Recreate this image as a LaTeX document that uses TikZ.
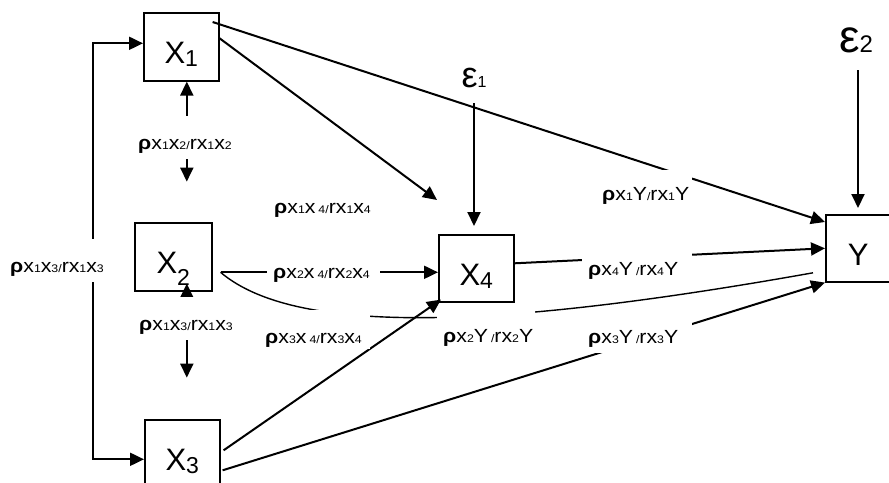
\documentclass[tikz,border=0pt]{standalone}
\usepackage{fontspec}
\setmainfont{Liberation Sans}
\newfontfamily\labfont[FakeStretch=1.12]{Liberation Sans}
\usetikzlibrary{arrows.meta,calc}

% subscript of a variable name inside a box
\newcommand\vsub[2]{\raisebox{#1}{\fontsize{23pt}{23pt}\selectfont #2}}
% small subscript used in the coefficient labels
\newcommand\ls[1]{\raisebox{-0.5pt}{\fontsize{11pt}{11pt}\selectfont #1}}
\newcommand\rh{{\bfseries ρ}}

\tikzset{
  var/.style={draw, line width=1.6pt, minimum width=75pt, inner sep=0pt,
    text height=51pt, text depth=17pt, anchor=north west,
    font=\fontsize{31pt}{31pt}\selectfont},
  conn/.style={line width=2pt, -{Triangle[length=14pt,width=13pt]}},
  both/.style={line width=2pt, {Triangle[length=14pt,width=13pt]}-{Triangle[length=14pt,width=13pt]}},
  thin path/.style={line width=1.4pt},
  lab/.style={fill=white, anchor=base west, inner xsep=6pt, inner ysep=0pt,
    text height=33pt, text depth=10pt, align=left,
    font=\labfont\fontsize{19pt}{19pt}\selectfont},
}

\begin{document}
\begin{tikzpicture}[x=1pt,y=-1pt]
\useasboundingbox (0,0) rectangle (889,482);
\fill[white] (0,0) rectangle (889,482);

% variables
\node[var] (X1) at (143,12) {X\vsub{-3pt}{1}};
\node[var, minimum width=77pt] (X2) at (134,222) {X\vsub{-12pt}{2}};
\node[var] (X3) at (144,419) {X\vsub{-3pt}{3}};
\node[var, text depth=16pt] (X4) at (438,234) {X\vsub{-3pt}{4}};
\node[var, text depth=16pt, minimum width=65pt] (Y) at (825,214) {Y};

% error terms
\node[inner sep=0pt, anchor=base, text depth=16pt] (e1) at (474,87)
  {\fontsize{36pt}{36pt}\selectfont ε\fontsize{16pt}{16pt}\selectfont 1};
\node[inner sep=0pt, anchor=base, text depth=18pt] (e2) at (856,52)
  {\fontsize{46pt}{46pt}\selectfont ε\fontsize{24pt}{24pt}\selectfont 2};

% loose ends
\coordinate (x1end) at ([shift={(-1pt,34pt)}]X4.north west);
\coordinate (x2yend) at ([shift={(-12pt,-24.5pt)}]Y.west);
\coordinate (x2start) at ([shift={(8pt,-15.5pt)}]X2.east);

% correlations between the exogenous variables
\draw[both] ([yshift=3.5pt]X1.west) -- ++(-50pt,0) |- ([yshift=-5.5pt]X3.west);
\draw[both] ([xshift=5.5pt]X1.south) -- ++(0,-100pt);
\draw[both] ([shift={(13.5pt,8pt)}]X2.south) -- ++(0,-94pt);

% paths
\draw[conn] ([shift={(-7pt,-10pt)}]X1.north east) -- ([yshift=-8pt]Y.north west);
\draw[conn] ([yshift=8.5pt]X1.east) -- (x1end);
\draw[conn] (e1.south) -- ($(e1.south |- X4.north)+(0,8pt)$);
\draw[conn] ([xshift=2pt]e2.south) -- ($(e2.south |- Y.north)+(2pt,6pt)$);
\draw[conn] (x2start) -- ([yshift=-4pt]X4.west);
\draw[thin path] (x2start) .. controls (300,340) and (520,325) .. (x2yend);
\draw[conn] ([shift={(3pt,3.5pt)}]X3.east) -- ([shift={(3pt,3pt)}]X4.south west);
\draw[conn] ([shift={(2pt,-16.5pt)}]X3.east) -- (Y.south west);
\draw[conn] ([yshift=5pt]X4.east) -- (Y.west);

% coefficient labels
\node[lab, text width=97pt] (l12) at (132,149) {\rh x\ls{1}x\ls{2}\ls{/}rx\ls{1}x\ls{2}};
\node[lab, text width=97pt] (l13a) at (133,330) {\rh x\ls{1}x\ls{3}\ls{/}rx\ls{1}x\ls{3}};
\node[lab, text width=97pt] (l13b) at (4,272) {\rh x\ls{1}x\ls{3}\ls{/}rx\ls{1}x\ls{3}};
\node[lab, text width=100pt] (l14) at (268,213) {\rh x\ls{1}x\ls{\kern3pt 4/}rx\ls{1}x\ls{4}};
\node[lab, text width=101pt] (l24) at (267,278) {\rh x\ls{2}x\ls{\kern3pt 4/}rx\ls{2}x\ls{4}};
\node[lab, text width=99pt, text depth=6pt] (l34) at (259,343) {\rh x\ls{3}x\ls{\kern3pt 4/}rx\ls{3}x\ls{4}};
\node[lab, text width=86pt] (l2y) at (437,342) {\rh x\ls{2}Y\ls{\kern3pt/}rx\ls{2}Y};
\node[lab, text width=84pt, text height=30pt] (l1y) at (596,200) {\rh x\ls{1}Y\ls{/}rx\ls{1}Y};
\node[lab, text width=98pt] (l4y) at (582,275) {\rh x\ls{4}Y\ls{\kern3pt/}rx\ls{4}Y};
\node[lab, text width=98pt] (l3y) at (582,343) {\rh x\ls{3}Y\ls{\kern3pt/}rx\ls{3}Y};
\end{tikzpicture}
\end{document}
